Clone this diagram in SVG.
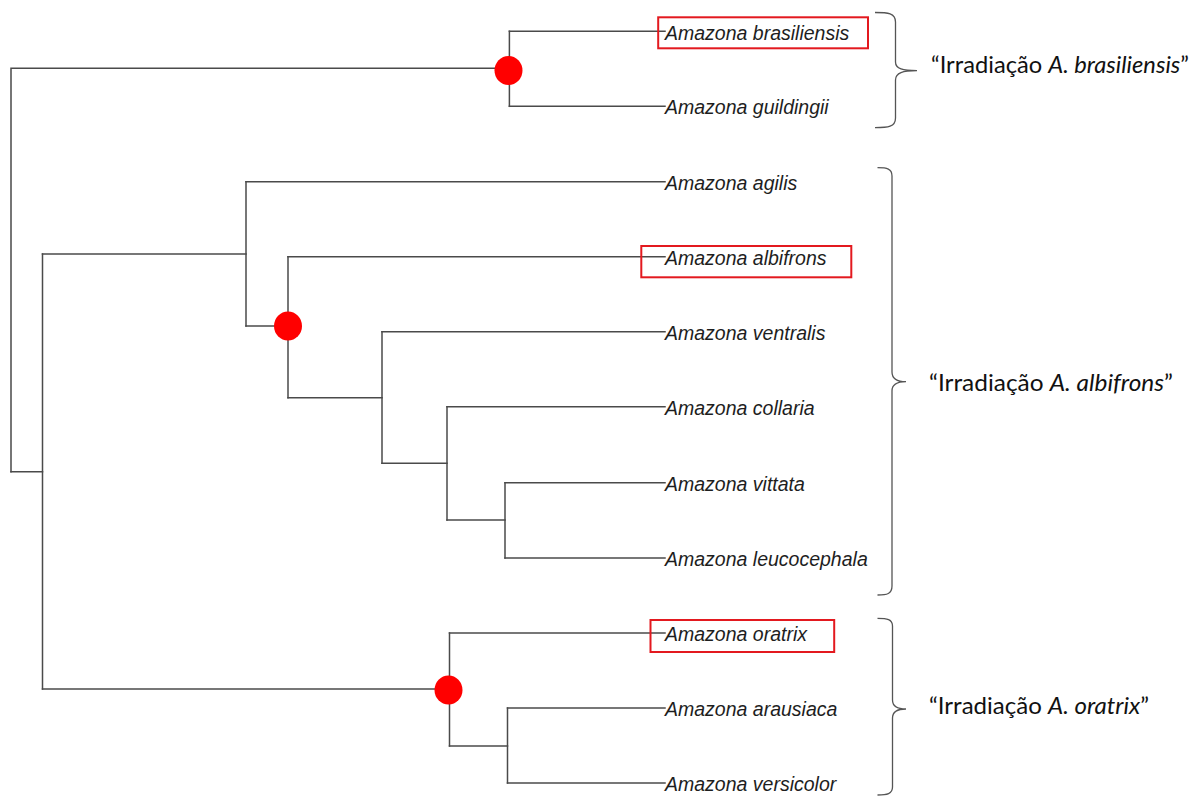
<svg xmlns="http://www.w3.org/2000/svg" width="1201" height="796" viewBox="0 0 1201 796">
<style>
.br{fill:none;stroke:#4a4a4a;stroke-width:1.5;stroke-linecap:square}
.sp{font-family:"Liberation Sans",Arial,sans-serif;font-style:italic;font-size:19.5px;fill:#1e1e1e}
.box{fill:none;stroke:#e3191f;stroke-width:2}
.dot{fill:#ff0000}
.brace{fill:none;stroke:#555;stroke-width:1.3}
.lab{font-family:Lato,"Open Sans",sans-serif;font-size:23px;fill:#111}
.it{font-style:italic}
</style>
<rect width="1201" height="796" fill="#fff"/>
<g id="connectors">
<path class="br" d="M11,471.7 V68.3 H509.4"/>
<path class="br" d="M509.4,31.3 V106.3"/>
<path class="br" d="M509.4,31.3 H665"/>
<path class="br" d="M509.4,106.3 H665"/>
<path class="br" d="M11,471.7 H42.5"/>
<path class="br" d="M42.5,254 V689"/>
<path class="br" d="M42.5,254 H246"/>
<path class="br" d="M246,181.7 V326"/>
<path class="br" d="M246,181.7 H665"/>
<path class="br" d="M246,326 H288"/>
<path class="br" d="M288,256.7 V397.7"/>
<path class="br" d="M288,256.7 H665"/>
<path class="br" d="M288,397.7 H382"/>
<path class="br" d="M382,331.7 V463.3"/>
<path class="br" d="M382,331.7 H665"/>
<path class="br" d="M382,463.3 H447"/>
<path class="br" d="M447,406.7 V520"/>
<path class="br" d="M447,406.7 H665"/>
<path class="br" d="M447,520 H505"/>
<path class="br" d="M505,482.7 V558"/>
<path class="br" d="M505,482.7 H665"/>
<path class="br" d="M505,558 H665"/>
<path class="br" d="M42.5,689 H449"/>
<path class="br" d="M449.5,633 V746"/>
<path class="br" d="M449.5,633 H665"/>
<path class="br" d="M449.5,746 H507.5"/>
<path class="br" d="M507.5,708 V783"/>
<path class="br" d="M507.5,708 H665"/>
<path class="br" d="M507.5,783 H665"/>
</g>
<g id="node-brasiliensis-clade"><ellipse class="dot" cx="508.5" cy="70.5" rx="14" ry="14.5"/></g>
<g id="node-albifrons-clade"><ellipse class="dot" cx="288" cy="326" rx="14" ry="14.5"/></g>
<g id="node-oratrix-clade"><ellipse class="dot" cx="448.5" cy="690" rx="14" ry="14.5"/></g>
<g id="sp-brasiliensis"><rect class="box" x="658.2" y="17.3" width="209.8" height="31"/><text class="sp" x="665" y="39.5">Amazona brasiliensis</text></g>
<g id="sp-guildingii"><text class="sp" x="665" y="114">Amazona guildingii</text></g>
<g id="sp-agilis"><text class="sp" x="665" y="189.5">Amazona agilis</text></g>
<g id="sp-albifrons"><rect class="box" x="641.3" y="246" width="210" height="31.3"/><text class="sp" x="665" y="264.7">Amazona albifrons</text></g>
<g id="sp-ventralis"><text class="sp" x="665" y="339.5">Amazona ventralis</text></g>
<g id="sp-collaria"><text class="sp" x="665" y="414.5">Amazona collaria</text></g>
<g id="sp-vittata"><text class="sp" x="665" y="490.5">Amazona vittata</text></g>
<g id="sp-leucocephala"><text class="sp" x="665" y="566">Amazona leucocephala</text></g>
<g id="sp-oratrix"><rect class="box" x="650.5" y="620" width="183.7" height="32"/><text class="sp" x="665" y="641">Amazona oratrix</text></g>
<g id="sp-arausiaca"><text class="sp" x="665" y="716">Amazona arausiaca</text></g>
<g id="sp-versicolor"><text class="sp" x="665" y="791">Amazona versicolor</text></g>
<g id="group-brasiliensis">
<path class="brace" d="M875,12.5 C888,12.5 895.5,13 895.5,22 L895.5,62 C895.5,69 903,70.7 917,70.7 C903,70.7 895.5,72.5 895.5,80 L895.5,118 C895.5,127 888,127.7 875,127.7"/>
<text class="lab" x="931" y="72.7" textLength="258" lengthAdjust="spacingAndGlyphs">“Irradiação <tspan class="it">A. brasiliensis</tspan>”</text>
</g>
<g id="group-albifrons">
<path class="brace" d="M877.5,167.7 C887,167.7 892,168.5 892,176 L892,372 C892,379 898,381.7 906,381.7 C898,381.7 892,384 892,391 L892,586 C892,594 887,595 877.5,595"/>
<text class="lab" x="929" y="390.7" textLength="244" lengthAdjust="spacingAndGlyphs">“Irradiação <tspan class="it">A. albifrons</tspan>”</text>
</g>
<g id="group-oratrix">
<path class="brace" d="M877.5,618.3 C887,618.3 892.5,619 892.5,626 L892.5,700 C892.5,706.5 898,709 906,709 C898,709 892.5,711.5 892.5,718 L892.5,787 C892.5,794 887,795 877.5,795"/>
<text class="lab" x="929" y="714" textLength="220" lengthAdjust="spacingAndGlyphs">“Irradiação <tspan class="it">A. oratrix</tspan>”</text>
</g>
</svg>
